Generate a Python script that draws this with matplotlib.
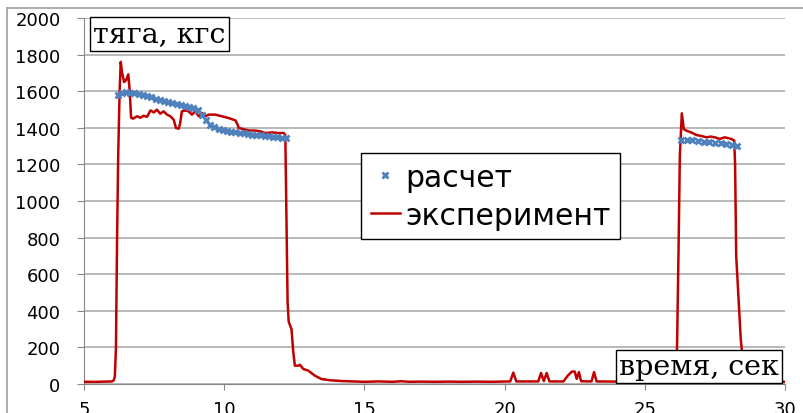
import matplotlib.pyplot as plt
from matplotlib.lines import Line2D

# экспериментальная тяга, кгс (время, с)
exp_t = [5.0, 5.5, 5.8, 6.0, 6.06, 6.1, 6.14, 6.18, 6.22, 6.27, 6.31, 6.36, 6.43,
         6.5, 6.58, 6.63, 6.68, 6.75, 6.89, 7.01, 7.13, 7.25, 7.37, 7.49, 7.6,
         7.72, 7.84, 7.96, 8.08, 8.2, 8.28, 8.38, 8.43, 8.49, 8.61, 8.73, 8.85,
         8.97, 9.09, 9.21, 9.33, 9.45, 9.68, 9.92, 10.16, 10.4, 10.47, 10.52,
         10.75, 10.9, 11.1, 11.3, 11.47, 11.7, 11.94, 12.12, 12.18, 12.22, 12.26,
         12.3, 12.4, 12.46, 12.52, 12.64, 12.7, 12.82, 13.0, 13.24, 13.47, 13.8,
         14.2, 14.6, 15.0, 15.5, 16.0, 16.3, 16.6, 17.0, 17.5, 18.0, 18.5, 19.0,
         19.5, 20.0, 20.2, 20.31, 20.42, 21.2, 21.3, 21.4, 21.5, 21.6, 22.1,
         22.25, 22.4, 22.5, 22.57, 22.65, 22.73, 23.1, 23.19, 23.28, 24.0, 25.0,
         26.0, 26.1, 26.15, 26.2, 26.25, 26.32, 26.39, 26.49, 26.65, 26.85, 27.0,
         27.2, 27.35, 27.5, 27.67, 27.85, 28.0, 28.09, 28.19, 28.22, 28.26, 28.34,
         28.42, 28.5, 28.6, 28.8, 30.0]
exp_p = [12, 12, 13, 14, 20, 40, 200, 800, 1250, 1600, 1760, 1700, 1650,
         1660, 1692, 1600, 1455, 1450, 1463, 1455, 1466, 1460, 1495, 1484, 1499,
         1477, 1490, 1472, 1463, 1444, 1399, 1395, 1426, 1490, 1495, 1490, 1472,
         1490, 1463, 1481, 1463, 1472, 1472, 1463, 1453, 1441, 1420, 1399,
         1390, 1385, 1385, 1380, 1371, 1375, 1371, 1372, 1360, 900, 450,
         340, 300, 180, 100, 100, 105, 82, 73, 45, 27, 20,
         16, 14, 12, 14, 12, 15, 12, 13, 12, 13, 12, 13,
         12, 13, 14, 62, 14, 14, 60, 16, 60, 14, 14,
         45, 68, 68, 28, 65, 15, 14, 65, 14, 13, 12,
         13, 20, 200, 700, 1250, 1479, 1393, 1384, 1375, 1360, 1356,
         1348, 1352, 1348, 1339, 1348, 1342, 1339, 1330, 1200, 700, 480,
         250, 120, 30, 12, 12]

# расчетная тяга
calc_t = [6.20, 6.35, 6.50, 6.65, 6.80, 6.95, 7.10, 7.25, 7.40, 7.55, 7.70,
          7.85, 8.00, 8.15, 8.30, 8.45, 8.60, 8.75, 8.90, 9.05, 9.20, 9.35,
          9.50, 9.65, 9.80, 9.95, 10.10, 10.25, 10.40, 10.55, 10.70, 10.85,
          11.00, 11.15, 11.30, 11.45, 11.60, 11.75, 11.90, 12.05, 12.20,
          26.3, 26.5, 26.7, 26.9, 27.1, 27.3, 27.5, 27.7, 27.9, 28.1, 28.3]
calc_p = [1578, 1588, 1594, 1592, 1588, 1584, 1578, 1572, 1566, 1560, 1554,
          1548, 1542, 1536, 1530, 1524, 1518, 1512, 1506, 1500, 1472, 1440,
          1418, 1404, 1394, 1388, 1383, 1379, 1375, 1372, 1369, 1366,
          1363, 1360, 1358, 1355, 1353, 1350, 1348, 1346, 1343,
          1336, 1334, 1331, 1328, 1325, 1322, 1318, 1315, 1311, 1306, 1300]

x_ticks = [5, 10, 15, 20, 25, 30]
y_ticks = [0, 200, 400, 600, 800, 1000, 1200, 1400, 1600, 1800, 2000]

W, H = 804, 414
fig = plt.figure(figsize=(W / 100, H / 100), dpi=100)
ax = fig.add_axes([84 / W, 1 - 385 / H, (785 - 84) / W, (385 - 19) / H])

ax.plot(exp_t, exp_p, color='#C00000', lw=1.8, label='эксперимент', zorder=3)
ax.plot(calc_t, calc_p, ls='none', marker='x', ms=5, mew=2,
        color='#4F81BD', label='расчет', zorder=4)

ax.set_xlim(5, 30)
ax.set_ylim(0, 2000)
ax.set_xticks(x_ticks)
ax.set_yticks(y_ticks)
ax.grid(axis='y', color='#A6A6A6', lw=1.1)
ax.set_axisbelow(True)
for s in ['top', 'right']:
    ax.spines[s].set_visible(False)
for s in ['left', 'bottom']:
    ax.spines[s].set_color('#868686')
ax.tick_params(axis='y', length=5, color='#868686', pad=12, labelsize=13)
ax.tick_params(axis='x', length=4.5, color='#868686', pad=7, labelsize=13)

leg = ax.legend(handles=[ax.lines[1], ax.lines[0]], loc='upper left',
                bbox_to_anchor=(361 / W, 1 - 154 / H),
                bbox_transform=fig.transFigure, fontsize=21.5, frameon=True,
                fancybox=False, edgecolor='black', framealpha=1,
                handlelength=1.0, handletextpad=0.15, borderpad=0.32,
                labelspacing=0.3, borderaxespad=0)
leg.get_frame().set_linewidth(1)

box = dict(boxstyle='square,pad=0.12', fc='white', ec='black', lw=1)
fig.text(159.5 / W, 1 - 35 / H, 'тяга, кгс', family='DejaVu Serif',
         fontsize=20.5, ha='center', va='center', bbox=box)
fig.text(699 / W, 1 - 367.5 / H, 'время, сек', family='DejaVu Serif',
         fontsize=20.5, ha='center', va='center', bbox=box)

# рамка области диаграммы
fig.add_artist(Line2D([7 / W, 7 / W], [0, 1 - 9 / H], color='#A0A0A0', lw=1.2))
fig.add_artist(Line2D([7 / W, 1], [1 - 9 / H, 1 - 9 / H], color='#A0A0A0', lw=1.2))

fig.savefig('out.png', dpi=100)
